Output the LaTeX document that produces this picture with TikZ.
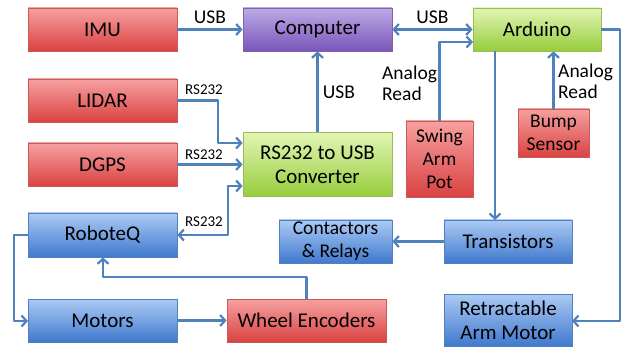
\documentclass[tikz,border=0pt]{standalone}
\usepackage{fontspec}
\setmainfont{Carlito}
\usetikzlibrary{arrows.meta}
\definecolor{link}{HTML}{4F81BD}
\tikzset{
  box/.style={draw, line width=0.8pt, inner sep=2pt, align=center,
    font=\fontsize{21}{24}\selectfont, text=black},
  redbox/.style={box, draw={rgb,255:red,200;green,90;blue,88},
    top color={rgb,255:red,246;green,160;blue,160}, bottom color={rgb,255:red,218;green,66;blue,66}},
  purplebox/.style={box, draw={rgb,255:red,128;green,100;blue,162},
    top color={rgb,255:red,190;green,170;blue,230}, bottom color={rgb,255:red,120;green,86;blue,185}},
  greenbox/.style={box, draw={rgb,255:red,155;green,187;blue,89},
    top color={rgb,255:red,226;green,245;blue,180}, bottom color={rgb,255:red,150;green,205;blue,60}},
  bluebox/.style={box, draw={rgb,255:red,79;green,129;blue,189},
    top color={rgb,255:red,172;green,202;blue,244}, bottom color={rgb,255:red,64;green,121;blue,206}},
  sm/.style={font=\fontsize{19.5}{23}\selectfont},
  wire/.style={draw=link, line width=2.6pt, line join=round,
    arrows={-Straight Barb[length=5pt,width=11pt,line width=2.2pt]}},
  both/.style={wire, arrows={Straight Barb[length=5pt,width=11pt,line width=2.2pt]-Straight Barb[length=5pt,width=11pt,line width=2.2pt]}},
  lbl/.style={font=\fontsize{19.5}{21}\selectfont, inner sep=0pt},
  rslbl/.style={font=\fontsize{15}{17}\selectfont, inner sep=0pt},
}
\begin{document}
\begin{tikzpicture}[x=1pt,y=-1pt]
\useasboundingbox (0,0) rectangle (623,347);

% sensors, controllers and actuators
\node[redbox, minimum width=149pt, minimum height=43pt] (imu) at (102.5,29.5) {IMU};
\node[purplebox, minimum width=149pt, minimum height=43pt] (comp) at (317.5,29.5) {Computer};
\node[greenbox, minimum width=128pt, minimum height=43pt] (ard) at (537,29.5) {Arduino};
\node[redbox, minimum width=149pt, minimum height=43pt] (lidar) at (102.5,100.5) {LIDAR};
\node[redbox, minimum width=149pt, minimum height=43pt] (dgps) at (102.5,164.5) {DGPS};
\node[greenbox, minimum width=149pt, minimum height=64pt] (conv) at (317.5,164.5) {RS232 to USB\\Converter};
\node[redbox, sm, minimum width=67pt, minimum height=76pt] (pot) at (439.5,159) {Swing\\Arm\\Pot};
\node[redbox, sm, minimum width=71pt, minimum height=48pt] (bump) at (553.5,133) {Bump\\Sensor};
\node[bluebox, minimum width=149pt, minimum height=44pt] (robo) at (102.5,235) {RoboteQ};
\node[bluebox, sm, minimum width=113pt, minimum height=43pt] (cont) at (335.5,241.5) {Contactors\\\& Relays};
\node[bluebox, minimum width=128pt, minimum height=43pt] (trans) at (508,241.5) {Transistors};
\node[bluebox, minimum width=149pt, minimum height=43pt] (mot) at (102.5,320.5) {Motors};
\node[redbox, minimum width=159pt, minimum height=43pt] (enc) at (306.5,320.5) {Wheel Encoders};
\node[bluebox, minimum width=128pt, minimum height=52pt] (ram) at (508,320) {Retractable\\Arm Motor};

% bend points of the routed wires
\coordinate (lidarbend) at (218,143);
\coordinate (robobend) at (228,186);
\coordinate (potin) at (473,42);
\coordinate (ardout) at (495,51);
\coordinate (transin) at (495,220);
\coordinate (ramin) at (572,321);
\coordinate (motin) at (28,321);
\coordinate (encturn) at (103,277);

% connections
\draw[wire] (imu) -- node[lbl, above=5pt] {USB} (comp);
\draw[both] (comp) -- node[lbl, above=5pt] {USB} (ard);
\draw[wire] (lidar.east) -| (lidarbend) -- (lidarbend -| conv.west);
\node[rslbl] (rs1) at (204,90) {RS232};
\draw[wire] (dgps.east) -- (dgps.east -| conv.west);
\node[rslbl] (rs2) at (204,155) {RS232};
\draw[both] (robo.east) -| (robobend) -- (robobend -| conv.west);
\node[rslbl] (rs3) at (204,222) {RS232};
\draw[wire] (conv) -- node[lbl, right=4pt] {USB} (comp);
\draw[wire] (pot.north) |- (potin);
\node[lbl, align=left, anchor=west] (ar1) at (382,83) {Analog\\Read};
\draw[wire] (bump) -- (bump |- ard.south);
\node[lbl, align=left, anchor=west] (ar2) at (558,81) {Analog\\Read};
\draw[wire] (ardout) -- (transin);
\draw[wire] (ard.east) -| (620,321) -- (ramin);
\draw[wire] (trans) -- (cont);
\draw[wire] (robo.west) -| (14,321) -- (motin);
\draw[wire] (mot) -- (enc);
\draw[wire] (enc.north) |- (encturn) -- (encturn |- robo.south);
\end{tikzpicture}
\end{document}
